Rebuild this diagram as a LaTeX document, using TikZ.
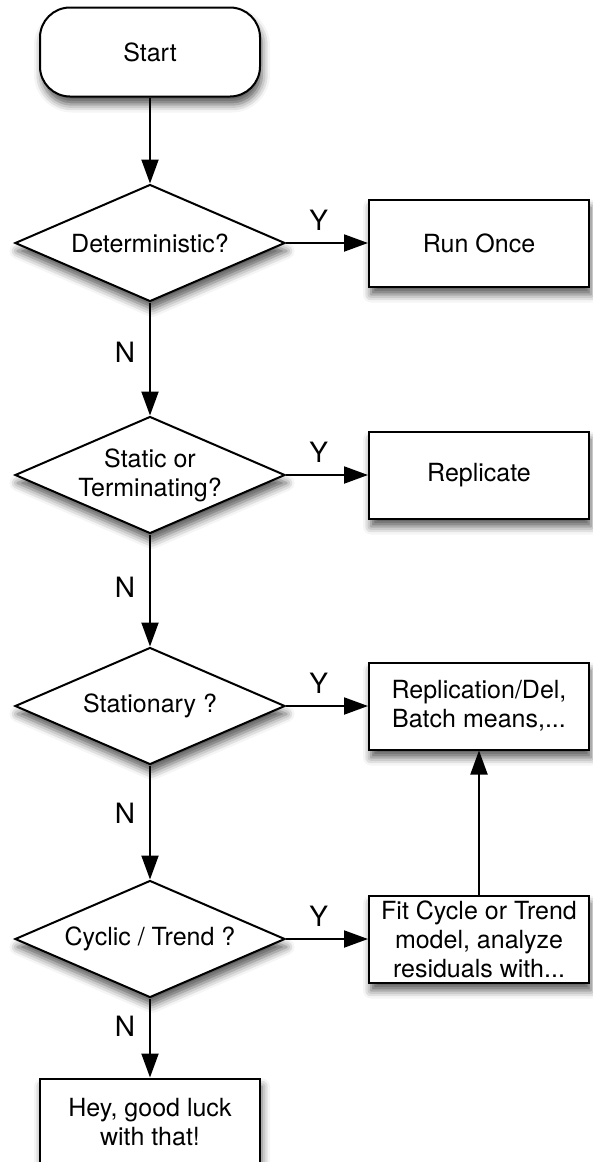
\documentclass[tikz,border=0pt]{standalone}
\usepackage{fontspec}
\setmainfont{TeX Gyre Heros}
\usetikzlibrary{shapes.geometric, arrows.meta, shadows.blur}

\begin{document}
\begin{tikzpicture}[
   x=1pt, y=-1pt,
   line width=2pt,
   font=\fontsize{25}{29}\selectfont,
   >={Triangle[length=24pt, width=17pt]},
   shadowed/.style={blur shadow={shadow xshift=2pt, shadow yshift=-8pt,
                    shadow blur radius=8pt, shadow opacity=65}},
   term/.style={rectangle, rounded corners=30pt, draw=black, fill=white, shadowed,
                minimum width=220pt, minimum height=89pt},
   test/.style={diamond, aspect=2.3, draw=black, fill=white, shadowed, inner sep=0pt,
                minimum width=270pt, minimum height=117pt, align=center},
   act/.style={rectangle, draw=black, fill=white, shadowed, inner sep=0pt,
               minimum width=220pt, minimum height=87pt, align=center},
   lbl/.style={font=\fontsize{28}{32}\selectfont, inner sep=0pt}
  ]

  % Column positions
  \pgfmathsetmacro{\xl}{150}
  \pgfmathsetmacro{\xr}{479}

  \useasboundingbox (0, 0) rectangle (592, 1162);

  \node (start) at (\xl, 52) [term] {Start};

  \node (det) at (\xl, 243) [test] {Deterministic?};
  \node (run) at (\xr, 243) [act] {Run Once};

  \node (stat) at (\xl, 475) [test] {Static or\\Terminating?};
  \node (repl) at (\xr, 475) [act] {Replicate};

  \node (stny) at (\xl, 706) [test] {Stationary ?};
  \node (batch) at (\xr, 706) [act] {Replication/Del,\\Batch means,...};

  \node (cyc) at (\xl, 939) [test] {Cyclic / Trend ?};
  \node (fit) at (\xr, 939) [act] {Fit Cycle or Trend\\model, analyze\\residuals with...};

  \node (luck) at (\xl, 1122) [act] {Hey, good luck\\with that!};

  \draw[->] (start) -- (det);

  \foreach \B/\E/\p in {det/stat/0.44, stat/stny/0.47, stny/cyc/0.42, cyc/luck/0.35} {
    \draw[->] (\B) -- node[lbl, left=14pt, pos=\p] {N} (\E);
  }

  \foreach \B/\E in {det/run, stat/repl, stny/batch, cyc/fit} {
    \draw[->] (\B) -- node[lbl, above=12pt, pos=0.4] {Y} (\E);
  }

  \draw[->] (fit) -- (batch);

\end{tikzpicture}
\end{document}
